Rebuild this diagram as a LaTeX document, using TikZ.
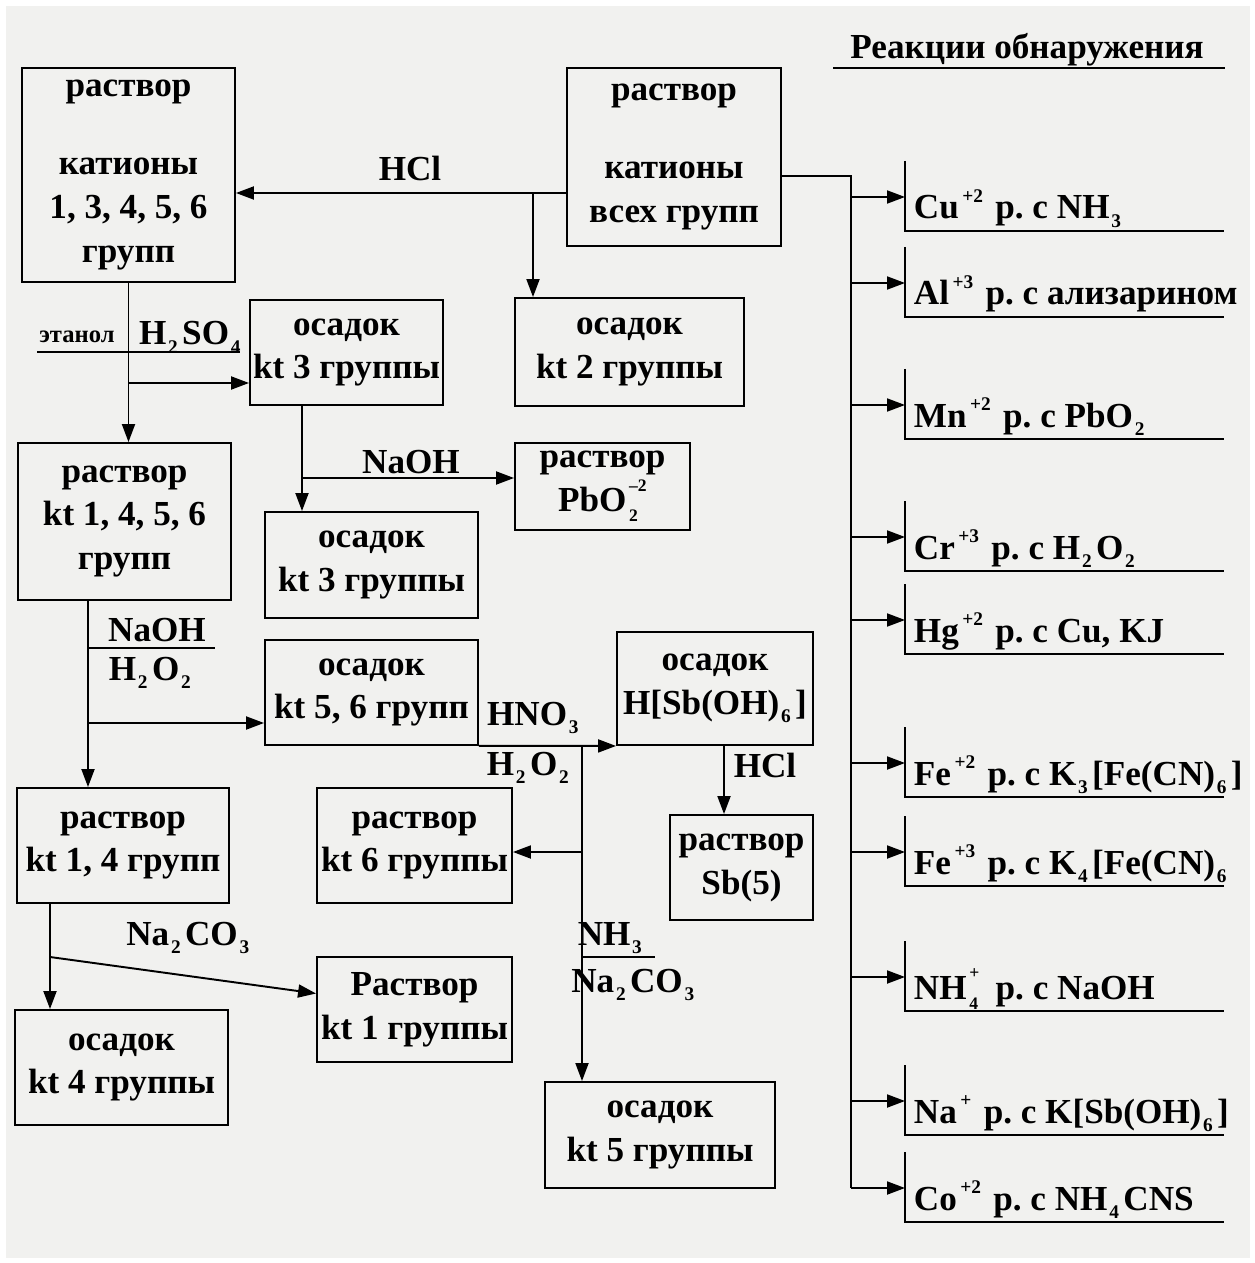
\documentclass[tikz,border=0pt]{standalone}
\usepackage{fontspec}
\setmainfont{Liberation Serif}
\usetikzlibrary{arrows.meta,calc,positioning}
\definecolor{ScanGray}{RGB}{241,241,239}
\newcommand{\ssub}[1]{\kern1pt\raisebox{-0.5ex}{\fontsize{11}{11}\selectfont#1}\kern2.5pt}
\newcommand{\ssup}[1]{\kern2pt\raisebox{1.0ex}{\fontsize{11}{11}\selectfont#1}\kern2pt}
\newcommand{\ssubsup}[2]{\kern1.5pt\rlap{\raisebox{1.25ex}{\fontsize{10}{10}\selectfont#2}}\raisebox{-0.65ex}{\fontsize{10}{10}\selectfont#1}\kern5pt}

\begin{document}
\frenchspacing
\begin{tikzpicture}[x=0.02cm,y=-0.02cm,line width=1.1pt,>={Triangle[length=0.36cm,width=0.26cm]},
  box/.style={draw,align=center,inner sep=0pt,font=\fontsize{20}{25}\selectfont\bfseries},
  lbl/.style={inner sep=0pt,font=\fontsize{20}{25}\selectfont\bfseries}]
  \useasboundingbox (0,0) rectangle (1254,1263);
  \fill[ScanGray] (6,6) rectangle (1250,1258);

  % header
  \node[lbl] (title) at (1027,50) {Реакции обнаружения};
  \draw (833,68) -- (1225,68);

  % boxes
  \node[box,minimum width=4.26cm,minimum height=4.28cm] (A) at (128.5,175)
    {раствор\\[0.68cm]катионы\\1, 3, 4, 5, 6\\групп};
  \node[box,minimum width=4.28cm,minimum height=3.56cm] (B) at (674,157)
    {раствор\\[0.68cm]катионы\\всех групп};
  \node[box,minimum width=4.58cm,minimum height=2.16cm] (C) at (629.5,352) {осадок\\kt 2 группы};
  \node[box,minimum width=3.86cm,minimum height=2.10cm] (E) at (346.5,352.5) {осадок\\kt 3 группы};
  \node[box,minimum width=4.26cm,minimum height=3.14cm] (D) at (124.5,521.5) {раствор\\kt 1, 4, 5, 6\\групп};
  \node[box,minimum width=3.50cm,minimum height=1.74cm] (F) at (602.5,486.5) {раствор\\PbO\ssubsup{2}{--2}};
  \node[box,minimum width=4.26cm,minimum height=2.12cm] (G) at (371.5,565) {осадок\\kt 3 группы};
  \node[box,minimum width=4.26cm,minimum height=2.10cm] (I) at (371.5,692.5) {осадок\\kt 5, 6 групп};
  \node[box,minimum width=3.92cm,minimum height=2.26cm] (J) at (715,688.5) {осадок\\H[Sb(OH)\ssub{6}]};
  \node[box,minimum width=4.24cm,minimum height=2.30cm] (H) at (123,845.5) {раствор\\kt 1, 4 групп};
  \node[box,minimum width=3.90cm,minimum height=2.30cm] (K) at (414.5,845.5) {раствор\\kt 6 группы};
  \node[box,minimum width=2.86cm,minimum height=2.10cm] (L) at (741.5,867.5) {раствор\\Sb(5)};
  \node[box,minimum width=4.26cm,minimum height=2.30cm] (M) at (121.5,1067.5) {осадок\\kt 4 группы};
  \node[box,minimum width=3.90cm,minimum height=2.10cm] (O) at (414.5,1009.5) {Раствор\\kt 1 группы};
  \node[box,minimum width=4.60cm,minimum height=2.12cm] (N) at (660,1135) {осадок\\kt 5 группы};

  % reagents
  \node[lbl] (hcl1) at (410,168) {HCl};
  \node[lbl,font=\fontsize{14}{16}\selectfont\bfseries,anchor=base] (etoh) at (77,343) {этанол};
  \node[lbl,anchor=base] (hso) at (192,345) {H\ssub{2}SO\ssub{4}};
  \draw (37,352) -- (240,352);
  \node[lbl] (naoh1) at (411,462) {NaOH};
  \node[lbl] (naoh2) at (157,630) {NaOH};
  \draw (88,648) -- (215,648);
  \node[lbl] (hoo1) at (152,673) {H\ssub{2}O\ssub{2}};
  \node[lbl] (hno) at (535,718) {HNO\ssub{3}};
  \node[lbl] (hoo2) at (530,768) {H\ssub{2}O\ssub{2}};
  \node[lbl] (hcl2) at (765,765) {HCl};
  \node[lbl] (nh3) at (612,938) {NH\ssub{3}};
  \draw (582,957) -- (655,957);
  \node[lbl] (naco1) at (635,985) {Na\ssub{2}CO\ssub{3}};
  \node[lbl] (naco2) at (190,938) {Na\ssub{2}CO\ssub{3}};

  % junctions
  \coordinate (j1) at (533,193);
  \coordinate (j2) at (126,383);
  \coordinate (j3) at (302,478);
  \coordinate (j4) at (88,723);
  \coordinate (j5) at (582,745);
  \coordinate (j6) at (582,852);
  \coordinate (j7) at (724,765);
  \coordinate (j8) at (50,957);
  \coordinate (bus) at (851,176);

  % separation scheme
  \draw[->] (B.west |- j1) -- (A.east |- j1);
  \draw[->] (j1) -- (j1 |- C.north);
  \draw[->] (A.south) -- (A.south |- D.north);
  \draw[->] (A.south |- j2) -- (E.west |- j2);
  \draw[->] (E.south -| j3) -- (j3 |- G.north);
  \draw[->] (j3) -- (F.west |- j3);
  \draw[->] (D.south -| j4) -- (j4 |- H.north);
  \draw[->] (j4) -- (I.west |- j4);
  \draw[->] (I.south east) -- (J.south west);
  \draw[->] (j5) -- (j5 |- N.north);
  \draw[->] (j6) -- (K.east |- j6);
  \draw[->] (J.south -| j7) -- (j7 |- L.north);
  \draw[->] (H.south -| j8) -- (j8 |- M.north);
  \draw[->] (j8) -- ($(O.west)+(0,-16)$);

  % detection reactions
  \draw (B.east |- bus) -- (bus) -- (851,1188);
  \foreach \b/\t [count=\i] in {
      231/{Cu\ssup{+2}\ р. с NH\ssub{3}},
      317/{Al\ssup{+3}\ р. с ализарином},
      439/{Mn\ssup{+2}\ р. с PbO\ssub{2}},
      571/{Cr\ssup{+3}\ р. с H\ssub{2}O\ssub{2}},
      654/{Hg\ssup{+2}\ р. с Cu, KJ},
      797/{Fe\ssup{+2}\ р. с K\ssub{3}[Fe(CN)\ssub{6}]},
      886/{Fe\ssup{+3}\ р. с K\ssub{4}[Fe(CN)\ssub{6}},
      1011/{NH\ssubsup{4}{+}\ р. с NaOH},
      1135/{Na\ssup{+}\ р. с K[Sb(OH)\ssub{6}]},
      1222/{Co\ssup{+2}\ р. с NH\ssub{4}CNS}}{
    \coordinate (t\i) at (905,\b-34);
    \draw[->] (bus |- t\i) -- (t\i);
    \draw (905,\b-70) -- (905,\b) -- (1224,\b);
    \node[lbl,anchor=base west] (r\i) at (913,\b-12) {\t};
  }
\end{tikzpicture}
\end{document}
